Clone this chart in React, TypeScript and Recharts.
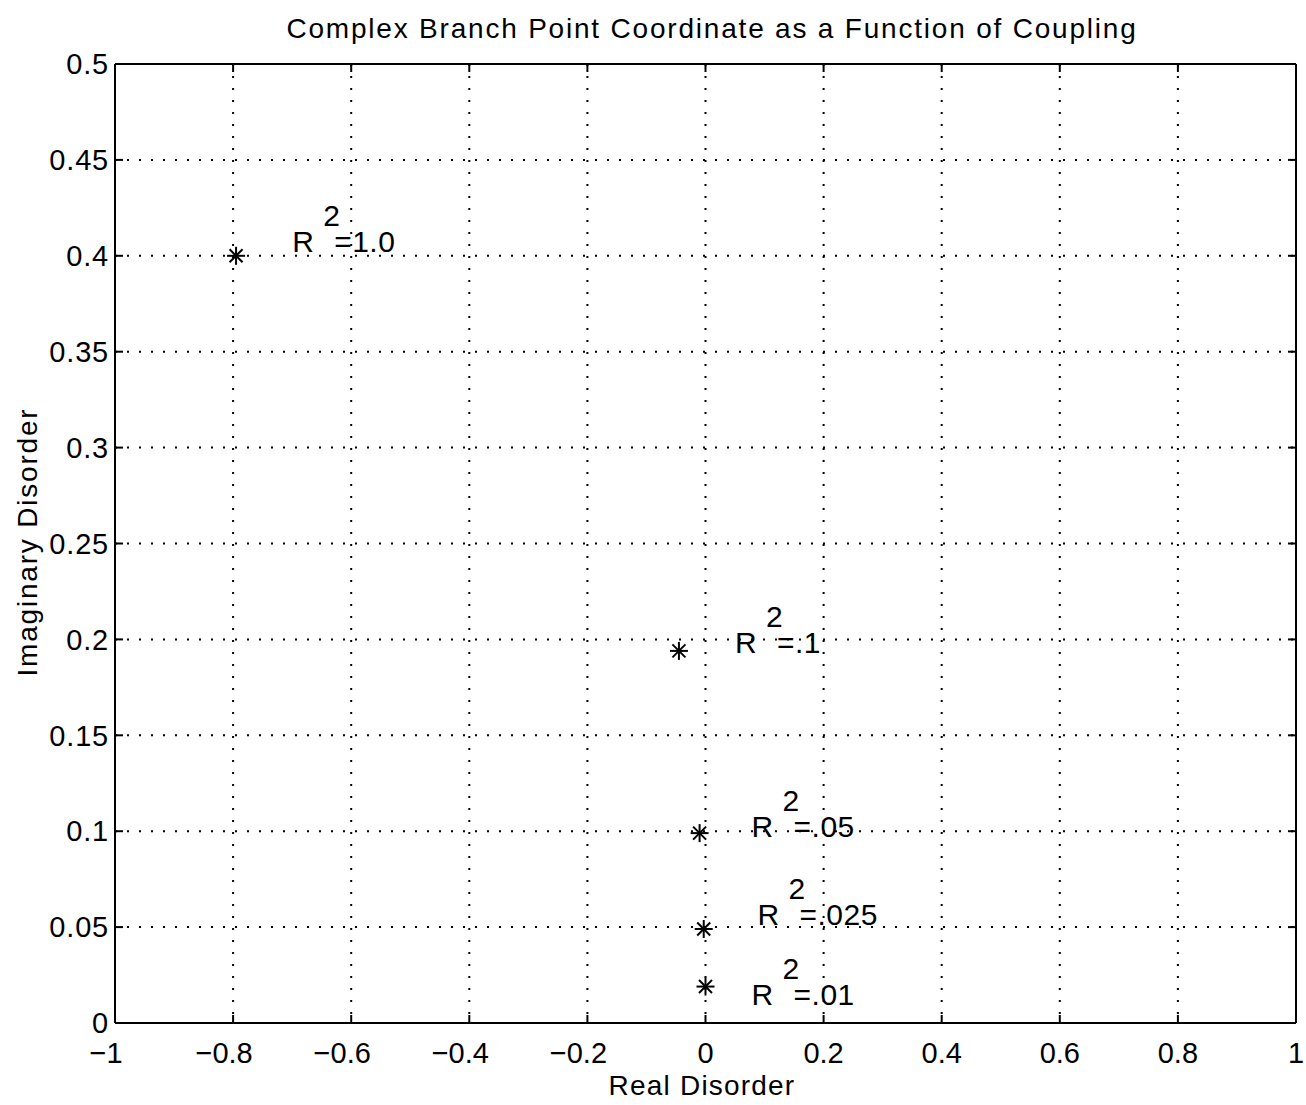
import React from 'react';
import { ScatterChart, Scatter, XAxis, YAxis, CartesianGrid } from 'recharts';

// Branch point coordinates (real, imaginary)
const realDisorder = [-0.795, -0.045, -0.01, -0.003, 0.0];
const imagDisorder = [0.4, 0.194, 0.099, 0.049, 0.019];

// Annotation labels: "R^2" + value, anchored (left/baseline) in data coordinates
const labelValues = ['=1.0', '=.1', '=.05', '=.025', '=.01'];
const labelReal = [-0.7, 0.05, 0.078, 0.088, 0.078];
const labelImag = [0.402, 0.193, 0.097, 0.051, 0.0094];

const xTicks = [-1, -0.8, -0.6, -0.4, -0.2, 0, 0.2, 0.4, 0.6, 0.8, 1];
const yTicks = [0, 0.05, 0.1, 0.15, 0.2, 0.25, 0.3, 0.35, 0.4, 0.45, 0.5];

const titleText = 'Complex Branch Point Coordinate as a Function of Coupling';
const xLabel = 'Real Disorder';
const yLabel = 'Imaginary Disorder';

const points = realDisorder.map((x, i) => ({ x, y: imagDisorder[i] }));
const labels = labelReal.map((x, i) => ({ x, y: labelImag[i], text: labelValues[i] }));

const FONT = "'Liberation Sans', Arial, Helvetica, sans-serif";
const W = 1306;
const H = 1105;
const M = { top: 63, left: 114, right: 9, bottom: 81 };

const Star = (props: any) => {
  const { cx, cy } = props;
  if (cx == null || cy == null) return null;
  const r = 9;
  const d = 6.5;
  return (
    <g stroke="#000" strokeWidth={2} fill="none">
      <line x1={cx} y1={cy - r} x2={cx} y2={cy + r} />
      <line x1={cx - r} y1={cy} x2={cx + r} y2={cy} />
      <line x1={cx - d} y1={cy - d} x2={cx + d} y2={cy + d} />
      <line x1={cx - d} y1={cy + d} x2={cx + d} y2={cy - d} />
    </g>
  );
};

const RLabel = (props: any) => {
  const { cx, cy, payload } = props;
  if (cx == null || cy == null) return null;
  return (
    <text fontFamily={FONT} fontSize={30} fill="#000" letterSpacing={0.5}>
      <tspan x={cx} y={cy}>R</tspan>
      <tspan x={cx + 31} y={cy - 26}>2</tspan>
      <tspan x={cx + 42} y={cy}>{payload.text}</tspan>
    </text>
  );
};

// X tick: number centred on the tick, minus sign hanging to the left
const XTick = (props: any) => {
  const { x, y, payload } = props;
  const v = payload.value as number;
  const neg = v < 0;
  const s = (neg ? '\u2212' : '') + String(Math.abs(v));
  return (
    <text
      x={x - (neg ? 9 : 0)}
      y={y}
      dy="0.71em"
      textAnchor="middle"
      fontFamily={FONT}
      fontSize={29}
      fill="#000"
    >
      {s}
    </text>
  );
};

const tickStyle = { fill: '#000', fontSize: 29, fontFamily: FONT, letterSpacing: 0.8 };

export default function App() {
  return (
    <div style={{ position: 'absolute', left: 0, top: 0, width: W, height: H, background: '#fff' }}>
      <ScatterChart width={W} height={H} margin={M}>
        <CartesianGrid
          stroke="#000"
          strokeWidth={2}
          strokeDasharray="2 10"
          horizontalValues={yTicks}
          verticalValues={xTicks}
        />
        <XAxis
          type="number"
          dataKey="x"
          domain={[-1, 1]}
          ticks={xTicks}
          height={1}
          tickSize={-8}
          tickMargin={27}
          tick={<XTick />}
          stroke="#000"
          strokeWidth={2}
          allowDataOverflow
        />
        <XAxis
          xAxisId="t"
          orientation="top"
          type="number"
          dataKey="x"
          domain={[-1, 1]}
          ticks={xTicks}
          tickFormatter={() => ''}
          height={1}
          tickSize={-8}
          stroke="#000"
          strokeWidth={2}
          allowDataOverflow
        />
        <YAxis
          type="number"
          dataKey="y"
          domain={[0, 0.5]}
          ticks={yTicks}
          width={1}
          tickSize={-8}
          tickMargin={14}
          tick={tickStyle}
          stroke="#000"
          strokeWidth={2}
          allowDataOverflow
        />
        <YAxis
          yAxisId="r"
          orientation="right"
          type="number"
          dataKey="y"
          domain={[0, 0.5]}
          ticks={yTicks}
          tickFormatter={() => ''}
          width={1}
          tickSize={-8}
          stroke="#000"
          strokeWidth={2}
          allowDataOverflow
        />
        <Scatter data={points} shape={Star} isAnimationActive={false} />
        <Scatter data={labels} shape={RLabel} isAnimationActive={false} />
      </ScatterChart>
      <svg
        width={W}
        height={H}
        style={{ position: 'absolute', left: 0, top: 0, pointerEvents: 'none' }}
      >
        <text x={712} y={38} textAnchor="middle" fontFamily={FONT} fontSize={28} letterSpacing={1.8} fill="#000">
          {titleText}
        </text>
        <text x={702} y={1095} textAnchor="middle" fontFamily={FONT} fontSize={28} letterSpacing={1.2} fill="#000">
          {xLabel}
        </text>
        <text
          x={0}
          y={0}
          transform="translate(37,542) rotate(-90)"
          textAnchor="middle"
          fontFamily={FONT}
          fontSize={28}
          letterSpacing={1.8}
          fill="#000"
        >
          {yLabel}
        </text>
      </svg>
    </div>
  );
}
